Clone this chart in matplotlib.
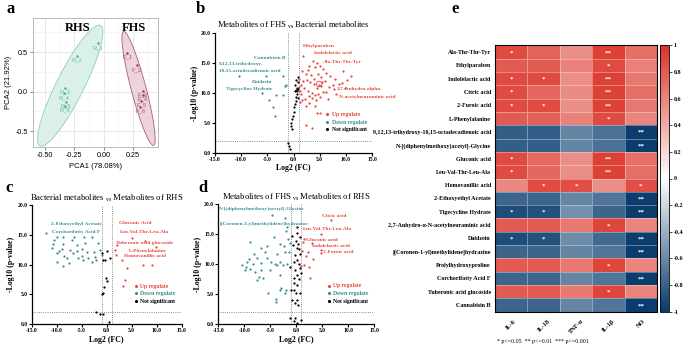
import numpy as np
import matplotlib
matplotlib.use('Agg')
import matplotlib.pyplot as plt
from matplotlib.colors import LinearSegmentedColormap
from matplotlib.lines import Line2D

plt.rcParams['font.family'] = 'Liberation Serif'
plt.rcParams['mathtext.fontset'] = 'custom'
plt.rcParams['mathtext.rm'] = 'Liberation Serif'
plt.rcParams['mathtext.it'] = 'Liberation Serif:italic'
plt.rcParams['mathtext.bf'] = 'Liberation Serif:bold'

# ---- panel a: PCA scores ----
pca_r_x = [-0.05, -0.23, -0.33, -0.34, -0.32, -0.33]
pca_r_y = [0.61, 0.45, 0.05, -0.02, -0.13, -0.18]
pca_r_names = ['R_1', 'R_2', 'R_3', 'R_4', 'R_5', 'R_6']
pca_f_x = [0.20, 0.28, 0.33, 0.33, 0.32, 0.31]
pca_f_y = [0.49, 0.33, 0.01, -0.04, -0.12, -0.19]
pca_f_names = ['F_1', 'F_2', 'F_3', 'F_4', 'F_5', 'F_6']
# ellipse: centre, half major axis vector, horizontal half width
ell_r = dict(c=(-0.285, 0.075), v=(0.245, 0.765), w=0.13)
ell_f = dict(c=(0.295, 0.04), v=(-0.125, 0.72), w=0.065)

# ---- volcano plots ----
b_up = [(1.9, 16.2), (3.8, 15.3), (4.4, 15.0), (4.1, 14.3), (5.0, 14.5), (5.6, 14.0), (2.8, 13.9),
        (1.6, 13.6), (2.4, 13.2), (3.3, 13.0), (4.6, 13.2), (6.2, 13.3), (9.5, 13.6), (10.9, 12.8),
        (10.2, 12.2), (9.3, 11.6), (8.6, 11.5), (7.5, 11.4), (6.8, 11.0), (7.8, 10.6), (6.0, 12.0),
        (5.4, 11.8), (4.8, 11.4), (5.2, 11.1), (4.5, 10.9), (3.9, 11.5), (3.2, 11.9), (2.6, 12.2),
        (1.9, 12.0), (1.5, 11.3), (2.1, 10.8), (1.3, 10.3), (2.7, 10.4), (3.5, 10.0), (4.1, 9.6),
        (4.7, 9.9), (5.6, 10.2), (6.3, 10.1), (5.0, 9.3), (4.3, 8.9), (3.6, 9.2), (2.9, 9.5),
        (2.2, 9.0), (1.7, 8.9), (1.5, 9.8), (1.2, 8.5), (2.4, 7.8), (4.1, 7.9), (3.0, 8.4),
        (4.4, 6.7), (5.0, 6.6), (2.4, 4.7), (3.5, 4.2), (8.0, 12.3), (7.0, 12.8), (3.0, 14.5),
        (5.3, 12.6), (4.0, 12.4), (6.5, 9.0), (9.8, 10.8), (8.2, 9.8), (1.1, 12.4), (1.0, 11.0)]
b_ring = [(4.9, 11.5)]
b_down = [(-10.5, 12.8), (-5.3, 12.8), (-2.1, 12.8), (-1.4, 11.3), (-4.7, 8.9), (-3.3, 9.6),
          (-2.1, 9.6), (-4.0, 7.7), (-3.5, 6.2), (-6.1, 10.0), (-1.6, 11.1)]
b_ns = [(0.8, 12.6), (0.5, 12.2), (0.9, 11.8), (0.3, 11.4), (0.6, 10.8), (0.8, 10.6), (0.4, 10.5),
        (0.6, 10.3), (0.7, 9.8), (0.5, 9.4), (0.4, 8.6), (0.2, 8.2), (0.1, 7.6), (0.0, 6.9),
        (-0.1, 6.2), (-0.3, 5.6), (-0.4, 5.0), (-0.5, 4.5), (-0.3, 4.0), (-1.1, 1.6), (-0.9, 1.1),
        (-0.7, 0.7), (0.2, 10.4), (0.9, 9.2)]

c_up = [(5.0, 14.5), (7.7, 14.0), (9.9, 13.0), (2.1, 13.3), (1.7, 12.5), (1.9, 11.7), (3.0, 10.8),
        (4.0, 9.4), (7.3, 9.9), (9.0, 9.9), (3.7, 7.4), (3.2, 6.5)]
c_down = [(-12.2, 15.3), (-9.9, 14.6), (-10.5, 14.1), (-8.7, 14.6), (-10.7, 13.5), (-8.7, 13.5),
          (-7.0, 14.1), (-9.0, 12.7), (-9.5, 12.3), (-10.0, 11.9), (-8.5, 11.5), (-8.0, 11.1),
          (-6.7, 11.9), (-6.0, 12.3), (-7.3, 12.5), (-6.0, 13.3), (-5.0, 12.7), (-4.3, 13.6),
          (-4.0, 12.2), (-5.0, 11.5), (-3.7, 11.1), (-2.5, 12.2), (-2.3, 11.3), (-1.7, 13.6),
          (-1.3, 12.5), (-1.0, 11.6), (-2.1, 10.8), (-5.7, 11.1), (-3.0, 14.7), (-8.7, 9.7),
          (-9.9, 10.5), (-3.0, 10.5), (-4.7, 10.8), (-11.0, 12.8), (-7.6, 10.3), (-6.5, 14.6),
          (-4.5, 14.6)]
c_ns = [(0.1, 12.3), (0.7, 11.1), (-0.3, 10.8), (-0.8, 10.8), (-0.1, 7.7), (0.1, 7.2), (-0.5, 6.3),
        (-0.7, 5.3), (-1.0, 5.0), (-2.1, 2.1), (-1.3, 1.8), (-0.8, 1.7), (0.5, 0.4), (-0.9, 12.0)]

d_up = [(6.8, 17.4), (4.8, 15.0), (1.6, 14.3), (1.25, 13.8), (3.0, 13.6), (4.7, 12.4), (4.7, 11.9),
        (3.2, 10.9), (1.9, 11.4), (1.2, 12.3), (1.5, 9.9), (2.5, 9.6), (2.7, 7.7), (1.0, 9.8),
        (2.3, 12.1)]
d_down = [(-4.7, 18.3), (-2.2, 17.8), (-1.7, 16.3), (-2.0, 15.6), (-4.3, 14.6), (-1.5, 14.3),
          (-3.2, 13.4), (-5.6, 13.1), (-6.8, 12.8), (-8.9, 13.8), (-6.0, 12.0), (-2.3, 13.1),
          (-2.2, 12.0), (-1.3, 12.0), (-1.2, 13.5), (-8.1, 11.7), (-7.6, 11.0), (-5.7, 11.1),
          (-9.0, 10.9), (-9.5, 10.4), (-10.5, 9.9), (-9.7, 9.6), (-6.7, 10.2), (-4.9, 10.4),
          (-4.1, 10.1), (-3.1, 10.4), (-2.6, 9.9), (-1.7, 10.1), (-3.6, 9.9), (-3.6, 11.8),
          (-6.8, 9.1), (-7.9, 8.8), (-8.9, 9.3), (-8.4, 10.0), (-9.9, 9.1), (-7.1, 7.9),
          (-6.3, 7.7), (-7.5, 7.4), (-5.0, 9.1), (-3.1, 8.2), (-2.9, 6.1), (-3.2, 5.8),
          (-5.4, 5.2), (-3.8, 4.3), (-3.8, 3.8), (-2.2, 5.3), (-2.0, 5.8)]
d_ns = [(0.2, 16.2), (0.2, 15.2), (0.7, 14.6), (0.0, 13.9), (0.4, 13.4), (0.1, 12.7), (0.7, 11.8),
        (-0.2, 11.6), (0.2, 10.7), (-0.5, 10.4), (0.6, 10.1), (-0.2, 9.1), (0.2, 8.2), (-0.5, 7.8),
        (0.6, 7.5), (0.2, 6.6), (-0.4, 5.7), (0.0, 5.2), (0.7, 5.2), (-0.8, 4.1), (0.2, 4.1),
        (0.4, 3.2), (-1.2, 1.0), (-0.5, 0.6), (0.2, 0.3), (0.9, 0.7), (-0.2, 1.1), (-0.9, 5.7),
        (-0.5, 6.9), (-1.2, 9.6), (0.9, 8.6), (0.6, 12.5), (-0.6, 13.2), (-0.8, 14.8), (0.8, 9.4),
        (-0.3, 3.5)]

vol_xticks = [-15, -10, -5, 0, 5, 10, 15]
vol_xticklabels = ['-15.0', '-10.0', '-5.0', '0.0', '5.0', '10.0', '15.0']
vol_yticks = [0, 5, 10, 15, 20]
vol_yticklabels = ['0.0', '5.0', '10.0', '15.0', '20.0']
legend_names = ['Up regulate', 'Down regulate', 'Not significant']

# ---- panel e: correlation heatmap ----
heat_rows = ['Ala-Thr-Thr-Tyr', 'Ethylparaben', 'Indolelactic acid', 'Citric acid', '2-Furoic acid',
             'L-Phenylalanine', '9,12,13-trihydroxy-10,15-octadecadienoic acid',
             'N-[(diphenylmethoxy)acetyl]-Glycine', 'Gluconic acid', 'Leu-Val-Thr-Leu-Ala',
             'Homovanillic acid', '2-Ethoxyethyl Acetate', 'Tigecycline Hydrate',
             '2,7-Anhydro-α-N-acetylneuraminic acid', 'Daidzein',
             '[(Coronen-1-yl)methylidene]hydrazine', 'Prolylhydroxyproline', 'Corchorifatty Acid F',
             'Tuberonic acid glucoside', 'Cannabisin B']
heat_cols = ['IL-6', 'IL-18', 'TNF-α', 'IL-1β', 'NO']
heat_values = [
    [0.88, 0.76, 0.55, 0.93, 0.70],
    [0.80, 0.80, 0.62, 0.88, 0.62],
    [0.88, 0.88, 0.55, 0.93, 0.66],
    [0.88, 0.74, 0.57, 0.93, 0.71],
    [0.88, 0.88, 0.55, 0.93, 0.66],
    [0.80, 0.78, 0.62, 0.88, 0.60],
    [-0.82, -0.82, -0.62, -0.72, -0.98],
    [-0.82, -0.82, -0.62, -0.72, -0.98],
    [0.88, 0.74, 0.55, 0.93, 0.71],
    [0.88, 0.74, 0.55, 0.93, 0.71],
    [0.58, 0.88, 0.86, 0.55, 0.86],
    [-0.78, -0.78, -0.62, -0.70, -0.98],
    [-0.90, -0.88, -0.56, -0.78, -0.98],
    [0.80, 0.80, 0.65, 0.90, 0.60],
    [-0.90, -0.88, -0.58, -0.76, -0.98],
    [-0.78, -0.78, -0.62, -0.70, -0.98],
    [0.80, 0.80, 0.65, 0.90, 0.60],
    [-0.78, -0.78, -0.62, -0.70, -0.98],
    [0.80, 0.80, 0.65, 0.90, 0.60],
    [-0.78, -0.78, -0.62, -0.70, -0.98],
]
heat_stars = [
    ['*', '', '', '**', ''], ['', '', '', '*', ''], ['*', '*', '', '**', ''], ['*', '', '', '**', ''],
    ['*', '*', '', '**', ''], ['', '', '', '*', ''], ['', '', '', '', '**'], ['', '', '', '', '**'],
    ['*', '', '', '**', ''], ['*', '', '', '**', ''], ['', '*', '*', '', '*'], ['', '', '', '', '**'],
    ['*', '*', '', '', '**'], ['', '', '', '*', ''], ['*', '*', '', '', '**'], ['', '', '', '', '**'],
    ['', '', '', '*', ''], ['', '', '', '', '**'], ['', '', '', '*', ''], ['', '', '', '', '**'],
]
cbar_ticks = [1, 0.8, 0.6, 0.4, 0.2, 0, -0.2, -0.4, -0.6, -0.8, -1]
cbar_labels = ['1', '0.8', '0.6', '0.4', '0.2', '0', '-0.2', '-0.4', '-0.6', '-0.8', '-1']

RED = '#e8473d'
TEAL = '#3a8d90'
W, H = 691, 350


def rect(x0, y0, x1, y1):
    # pixel box -> figure fraction
    return [x0 / W, 1 - y1 / H, (x1 - x0) / W, (y1 - y0) / H]


fig = plt.figure(figsize=(6.91, 3.5), dpi=100)

# ================= a =================
ax = fig.add_axes(rect(33, 18, 158, 147))
t = np.linspace(0, 2 * np.pi, 200)
for e, fc, ec in [(ell_r, '#d8efe5', '#86cdb0'), (ell_f, '#ecd0d9', '#a2506b')]:
    ex = e['c'][0] + e['v'][0] * np.cos(t) + e['w'] * np.sin(t)
    ey = e['c'][1] + e['v'][1] * np.cos(t)
    ax.fill(ex, ey, facecolor=fc, edgecolor=ec, lw=0.6, alpha=0.9, zorder=2)
ax.scatter(pca_r_x, pca_r_y, s=3, color='#3fae86', zorder=3, lw=0)
ax.scatter(pca_f_x, pca_f_y, s=3, color='#9c2f55', zorder=3, lw=0)
for xs, ys, names, col in [(pca_r_x, pca_r_y, pca_r_names, '#5fbf9c'),
                           (pca_f_x, pca_f_y, pca_f_names, '#a8506b')]:
    for x, y, n in zip(xs, ys, names):
        ax.annotate(n, (x, y), xytext=(0, -3), textcoords='offset points', ha='center',
                    va='center', fontsize=4.2, color=col, family='Liberation Sans', zorder=4)
ax.text(-0.22, 0.80, 'RHS', fontsize=9, weight='bold', ha='center', va='center', zorder=5)
ax.text(0.26, 0.80, 'FHS', fontsize=9, weight='bold', ha='center', va='center', zorder=5)
ax.set_xlim(-0.6, 0.46)
ax.set_ylim(-0.70, 0.93)
ax.set_xticks([-0.5, -0.25, 0, 0.25])
ax.set_xticklabels(['-0.50', '-0.25', '0.00', '0.25'], family='Liberation Sans', fontsize=5.2)
ax.set_yticks([-0.5, 0, 0.5])
ax.set_yticklabels(['-0.5', '0.0', '0.5'], family='Liberation Sans', fontsize=5.2)
ax.set_xticks([-0.375, -0.125, 0.125, 0.375], minor=True)
ax.set_yticks([-0.25, 0.25, 0.75], minor=True)
ax.grid(True, which='major', color='#e4e4e4', lw=0.6, zorder=0)
ax.grid(True, which='minor', color='#f0f0f0', lw=0.4, zorder=0)
ax.set_axisbelow(True)
ax.tick_params(which='major', length=2, width=0.5, color='#555555', pad=1.5)
ax.tick_params(which='minor', length=0)
for s in ax.spines.values():
    s.set_color('#b0b0b0')
    s.set_linewidth(0.6)
ax.set_xlabel('PCA1 (78.08%)', family='Liberation Sans', fontsize=5.5, labelpad=3)
ax.set_ylabel('PCA2 (21.92%)', family='Liberation Sans', fontsize=5.5, labelpad=3)


# ================= volcano panels =================
def volcano(box, title, up, down, ns, lab_up, lab_down, leg_xy, ring=None, title_pad=3):
    ax = fig.add_axes(rect(*box))
    for pts, col in [(ns, 'black'), (down, TEAL), (up, RED)]:
        p = np.array(pts)
        ax.scatter(p[:, 0], p[:, 1], s=2.6, color=col, lw=0, zorder=3)
    if ring is not None:
        r = np.array(ring)
        ax.scatter(r[:, 0], r[:, 1], s=16, facecolors='none', edgecolors=RED, lw=0.6, zorder=3)
    for xv in (-1, 1):
        ax.axvline(xv, color='#666666', ls=(0, (1, 1.6)), lw=0.6, zorder=1)
    ax.axhline(2, color='#666666', ls=(0, (1, 1.6)), lw=0.6, zorder=1)
    ax.set_xlim(-15, 15)
    ax.set_ylim(0, 20)
    ax.set_xticks(vol_xticks)
    ax.set_xticklabels(vol_xticklabels, fontsize=4.1, weight='bold')
    ax.set_yticks(vol_yticks)
    ax.set_yticklabels(vol_yticklabels, fontsize=4.1, weight='bold')
    ax.tick_params(length=2, width=0.8, pad=1)
    for s in ('top', 'right'):
        ax.spines[s].set_visible(False)
    for s in ('left', 'bottom'):
        ax.spines[s].set_linewidth(0.9)
    ax.set_xlabel('Log2 (FC)', fontsize=5.6, weight='bold', labelpad=1.5)
    ax.set_ylabel('-Log10 (p-value)', fontsize=5.6, weight='bold', labelpad=1.5)
    ax.set_title(title, fontsize=6.2, pad=title_pad)
    for txt, x, y, ha in lab_up:
        ax.text(x, y, txt, color=RED, fontsize=3.9, weight='bold', ha=ha, va='center', zorder=4)
    for txt, x, y, ha in lab_down:
        ax.text(x, y, txt, color=TEAL, fontsize=3.9, weight='bold', ha=ha, va='center', zorder=4)
    handles = [Line2D([], [], ls='', marker='o', ms=1.2, color=c) for c in (RED, TEAL, 'black')]
    ax.legend(handles, legend_names, loc='upper left', bbox_to_anchor=leg_xy,
              bbox_transform=ax.transData, frameon=False, fontsize=4.1,
              prop={'weight': 'bold', 'size': 4.1}, labelcolor=[RED, TEAL, 'black'],
              handlelength=0.5, handletextpad=0.5, labelspacing=0.45, borderpad=0,
              borderaxespad=0)
    return ax


volcano((215, 33, 372, 153), r'Metabolites of FHS ${}_{\mathrm{vs}}$ Bacterial metabolites',
        b_up, b_down, b_ns,
        [('Ethylparaben', 1.8, 17.8, 'left'), ('Indolelactic acid', 3.9, 16.7, 'left'),
         ('Ala-Thr-Thr-Tyr', 5.7, 15.2, 'left'), ('2,7-Anhydro-alpha-', 8.2, 10.7, 'left'),
         ('N-acetylneuraminic acid', 8.6, 9.4, 'left')],
        [('Cannabisin B', -1.6, 15.9, 'right'), ('9,12,13-trihydroxy-', -14.2, 14.8, 'left'),
         ('10,15-octadecadienoic acid', -14.2, 13.7, 'left'), ('Daidzein', -4.0, 11.9, 'right'),
         ('Tigecycline Hydrate', -4.0, 10.7, 'right')],
        (6.2, 6.8), ring=b_ring, title_pad=4)

volcano((31.7, 205, 181.7, 324.3), r'Bacterial metabolites ${}_{\mathrm{vs}}$ Metabolites of RHS',
        c_up, c_down, c_ns,
        [('Gluconic Acid', 2.5, 16.9, 'left'), ('Leu-Val-Thr-Leu-Ala', 2.7, 15.4, 'left'),
         ('Tuberonic acid glucoside', 1.8, 13.7, 'left'), ('L-Phenylalanine', 4.5, 12.3, 'left'),
         ('Homovanillic acid', 3.5, 11.5, 'left')],
        [('2-Ethoxyethyl Acetate', -1.0, 16.8, 'right'), ('Corchorifatty Acid F', -1.3, 15.5, 'right')],
        (5.6, 6.8))

volcano((218.3, 204.3, 374, 324.3), r'Metabolites of FHS ${}_{\mathrm{vs}}$ Metabolites of RHS',
        d_up, d_down, d_ns,
        [('Citric acid', 4.9, 18.1, 'left'), ('Leu-Val-Thr-Leu-Ala', 1.4, 15.9, 'left'),
         ('Gluconic acid', 1.9, 14.1, 'left'), ('Indolelactic acid', 3.0, 13.1, 'left'),
         ('2-Furoic acid', 5.1, 12.0, 'left')],
        [('N-[(diphenylmethoxy)acetyl]-Glycine', -14.8, 19.2, 'left'),
         ('[(Coronen-1-yl)methylidene]hydrazine', -14.7, 16.8, 'left')],
        (6.0, 6.8))

# ================= e =================
cmap = LinearSegmentedColormap.from_list('cor', ['#063a6c', '#ffffff', '#db3328'])
ax = fig.add_axes(rect(495, 45.3, 657, 311.7))
vals = np.array(heat_values)
mesh = ax.pcolormesh(vals, cmap=cmap, vmin=-1, vmax=1, edgecolors=(1, 1, 1, 0.35), linewidth=0.5)
for i, row in enumerate(heat_stars):
    for j, s in enumerate(row):
        if s:
            ax.text(j + 0.5, i + 0.55, s, color='white', fontsize=5, ha='center', va='center',
                    weight='bold')
ax.set_xlim(0, len(heat_cols))
ax.set_ylim(len(heat_rows), 0)
ax.set_yticks(np.arange(len(heat_rows)) + 0.5)
ax.set_yticklabels(heat_rows, fontsize=4.3, weight='bold')
ax.set_xticks(np.arange(len(heat_cols)) + 0.5)
ax.set_xticklabels(heat_cols, fontsize=4.6, weight='bold', rotation=45, ha='center', va='top')
ax.tick_params(length=0, pad=3)
ax.tick_params(axis='x', pad=5)
for s in ax.spines.values():
    s.set_linewidth(0.8)

cax = fig.add_axes(rect(660, 45.3, 669, 311.7))
cb = fig.colorbar(mesh, cax=cax)
cb.set_ticks(cbar_ticks)
cb.set_ticklabels(cbar_labels)
cb.ax.tick_params(labelsize=4.3, length=2, width=0.5, pad=1.5)
for lab in cb.ax.get_yticklabels():
    lab.set_fontweight('bold')
cb.outline.set_linewidth(0.6)

fig.text(497 / W, 1 - 342 / H, '* p<=0.05  ** p<=0.01  *** p<=0.001', fontsize=4.2, va='center')

# panel letters
for letter, x, y in [('a', 11, 9), ('b', 200, 9), ('c', 9, 188), ('d', 203, 188), ('e', 455, 9)]:
    fig.text(x / W, 1 - y / H, letter, fontsize=12, weight='bold', va='center', ha='center')

fig.savefig('out.png', dpi=100)
